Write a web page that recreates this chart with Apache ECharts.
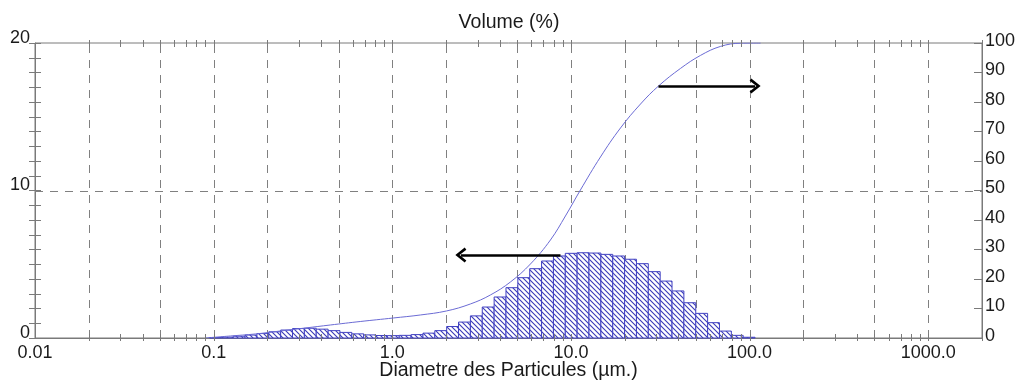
<!DOCTYPE html>
<html><head><meta charset="utf-8">
<script src="https://cdn.jsdelivr.net/npm/echarts@6/dist/echarts.min.js"></script>
<style>html,body{margin:0;padding:0;background:#fff}#c{width:1018px;height:382px}</style>
</head><body><div id="c"></div>
<script>
// ---- data ----
// histogram bin edges (µm) and volume (%) in each bin
const binEdges = [0.0948,0.1104,0.1287,0.1499,0.1747,0.2035,0.2372,0.2764,0.3220,0.3752,0.4372,0.5094,0.5935,0.6916,0.8057,0.9387,1.094,1.275,1.485,1.730,2.016,2.349,2.737,3.189,3.716,4.329,5.044,5.878,6.849,7.980,9.298,10.83,12.62,14.71,17.14,19.97,23.27,27.11,31.59,36.80,42.88,49.97,58.22,67.83,79.04,92.09,107.3];
const volumes = [0.03,0.06,0.12,0.2,0.3,0.42,0.54,0.64,0.66,0.6,0.5,0.38,0.28,0.21,0.17,0.16,0.18,0.23,0.33,0.5,0.78,1.08,1.5,2.1,2.78,3.41,4.09,4.7,5.22,5.56,5.74,5.78,5.76,5.67,5.56,5.34,5.04,4.5,3.86,3.19,2.39,1.67,1.04,0.47,0.18,0.05];
// cumulative curve (right axis)
const cumDiam = [0.0896,0.124,0.171,0.236,0.326,0.45,0.662,1.013,1.435,2.006,2.735,3.54,4.583,5.933,7.677,9.316,11.30,14.63,18.94,24.52,30.92,41.07,53.15,68.79,89.03,115.2];
const cumPct  = [0,0.68,1.36,2.37,3.39,4.41,5.59,6.78,7.8,9.15,11.53,14.58,18.98,25.08,33.22,41.36,50.17,61.36,71.19,79.32,85.42,91.39,95.8,98.85,99.93,100];
// axis ticks / labels
const xTickValues = [0.01,0.1,1,10,100,1000];
const xTickLabels = ['0.01','0.1','1.0','10.0','100.0','1000.0'];
const leftTickValues = [0,10,20];
const leftTickLabels = ['0','10','20'];
const rightTickLabels = ['0','10','20','30','40','50','60','70','80','90','100'];
const decades = [0.01,0.1,1,10,100,1000];
const multipliers = [1,2,3,4,5,6,7,8,9];
const gridXValues = [0.02,0.05,0.1,0.2,0.5,1,2,5,10,20,50,100,200,500,1000];
const gridYValues = [10];
// annotation arrows [diameter, right-axis %]
const arrowRightFrom = [30.9, 85.4], arrowRightTo = [107.4, 85.4];
const arrowLeftFrom = [8.74, 28.1], arrowLeftTo = [2.42, 28.1];

// ---- chart ----
const tickValues = [];
decades.forEach(d => multipliers.forEach(m => { const v = +(d*m).toPrecision(3); if (v > 0.01 && v <= 2000) tickValues.push(v); }));

function hatch(){
  const s = 5, c = document.createElement('canvas'); c.width = s; c.height = s;
  const g = c.getContext('2d'); g.fillStyle = '#fff'; g.fillRect(0,0,s,s);
  g.strokeStyle = '#3a3ab8'; g.lineWidth = 1.1; g.beginPath();
  g.moveTo(-1,-1); g.lineTo(s+1,s+1); g.moveTo(-1,s-1); g.lineTo(1,s+1); g.moveTo(s-1,-1); g.lineTo(s+1,1);
  g.stroke(); return c;
}
const pat = hatch();
const AX = '#7a7a7a', TXT = '#1a1a1a', FONT = 'Liberation Sans, Arial, sans-serif';
const crisp = x => Math.round(x) + 0.5;
const chevron = 'path://M50,0 L100,85 L86,100 L50,38 L14,100 L0,85 Z';

const chart = echarts.init(document.getElementById('c'), null, {renderer: 'canvas'});
chart.setOption({
  animation: false,
  textStyle: {fontFamily: FONT},
  title: {text: 'Volume (%)', left: 'center', top: 8, textStyle: {fontSize: 19.5, fontWeight: 'normal', color: TXT, fontFamily: FONT}},
  grid: {left: 35, right: 36, top: 43, bottom: 44, containLabel: false, outerBoundsMode: 'none', show: true, borderColor: AX, borderWidth: 1},
  xAxis: [
    {type: 'log', logBase: 10, min: 0.01, max: 2000, position: 'bottom',
     axisLine: {show: true, lineStyle: {color: AX}}, axisTick: {show: false}, splitLine: {show: false}, minorTick: {show: false},
     axisLabel: {fontSize: 18, color: TXT, margin: 6, formatter: v => {
       const i = xTickValues.findIndex(t => Math.abs(Math.log10(t) - Math.log10(v)) < 1e-6); return i < 0 ? '' : xTickLabels[i]; }},
     name: 'Diametre des Particules (µm.)', nameLocation: 'middle', nameGap: 23, nameMoveOverlap: false, nameTextStyle: {fontSize: 19.5, color: TXT}},
    {type: 'log', logBase: 10, min: 0.01, max: 2000, position: 'top',
     axisLine: {show: true, lineStyle: {color: AX}}, axisTick: {show: false}, axisLabel: {show: false}, splitLine: {show: false}}
  ],
  yAxis: [
    {type: 'value', min: 0, max: 20, interval: 1, position: 'left',
     axisLine: {show: true, lineStyle: {color: AX}}, axisTick: {show: true, inside: false, length: 6, lineStyle: {color: AX}},
     splitLine: {show: false},
     axisLabel: {fontSize: 18, color: TXT, margin: 5, verticalAlign: 'bottom', lineHeight: 10,
       formatter: v => { const i = leftTickValues.indexOf(v); return i < 0 ? '' : leftTickLabels[i]; }}},
    {type: 'value', min: 0, max: 100, interval: 10, position: 'right',
     axisLine: {show: true, lineStyle: {color: AX}}, axisTick: {show: true, inside: true, length: 8, lineStyle: {color: AX}},
     splitLine: {show: false},
     axisLabel: {fontSize: 18, color: TXT, margin: 3, verticalAlign: 'bottom', lineHeight: 4, formatter: v => rightTickLabels[Math.round(v/10)]}},
    {type: 'value', min: 0, max: 20, interval: 1, position: 'left',
     axisLine: {show: false}, axisTick: {show: true, inside: true, length: 6, lineStyle: {color: AX}},
     axisLabel: {show: false}, splitLine: {show: false}}
  ],
  series: [
    {type: 'custom', name: 'gridX', xAxisIndex: 0, yAxisIndex: 0, z: 1, silent: true, clip: false,
     data: gridXValues.map(v => [v, 0]), encode: {x: 0, y: 1},
     renderItem: (p, api) => { const b = api.coord([api.value(0), 0]), t = api.coord([api.value(0), 20]);
       return {type: 'line', shape: {x1: crisp(b[0]), y1: b[1], x2: crisp(b[0]), y2: t[1]}, style: {stroke: '#808080', lineWidth: 1, lineDash: [8, 7]}}; }},
    {type: 'custom', name: 'gridY', xAxisIndex: 0, yAxisIndex: 0, z: 1, silent: true, clip: false,
     data: gridYValues.map(v => [1, v]), encode: {x: 0, y: 1},
     renderItem: (p, api) => { const a = api.coord([0.01, api.value(1)]), b = api.coord([2000, api.value(1)]);
       return {type: 'line', shape: {x1: a[0], y1: crisp(a[1]), x2: b[0], y2: crisp(a[1])}, style: {stroke: '#808080', lineWidth: 1, lineDash: [8, 7]}}; }},
    {type: 'custom', name: 'Volume', xAxisIndex: 0, yAxisIndex: 0, z: 3, clip: false,
     data: volumes.map((v, i) => [binEdges[i], binEdges[i+1], v]), encode: {x: [0, 1], y: 2},
     renderItem: (p, api) => { const a = api.coord([api.value(0), api.value(2)]), b = api.coord([api.value(1), 0]);
       return {type: 'rect', shape: {x: a[0], y: a[1], width: b[0]-a[0], height: b[1]-a[1]},
         style: {fill: {image: pat, repeat: 'repeat'}, stroke: '#4141c2', lineWidth: 1}}; }},
    {type: 'line', name: 'Cumul', xAxisIndex: 0, yAxisIndex: 1, z: 4, smooth: 0.4, showSymbol: false, silent: true,
     data: cumDiam.map((d, i) => [d, cumPct[i]]), lineStyle: {color: '#6b6bd4', width: 1},
     markLine: {silent: true, symbol: ['none', chevron], symbolSize: [15, 11], label: {show: false},
       lineStyle: {color: '#000', width: 2.5, type: 'solid'}, emphasis: {disabled: true},
       data: [[{coord: arrowRightFrom}, {coord: arrowRightTo}], [{coord: arrowLeftFrom}, {coord: arrowLeftTo}]]}},
    {type: 'custom', name: 'ticks', xAxisIndex: 0, yAxisIndex: 0, z: 6, silent: true, clip: false,
     data: tickValues.map(v => [v, 0]), encode: {x: 0, y: 1},
     renderItem: (p, api) => { const b = api.coord([api.value(0), 0]), t = api.coord([api.value(0), 20]); const x = crisp(b[0]);
       return {type: 'group', children: [
         {type: 'line', shape: {x1: x, y1: b[1]-4, x2: x, y2: b[1]+3}, style: {stroke: AX, lineWidth: 1}},
         {type: 'line', shape: {x1: x, y1: t[1]-3, x2: x, y2: t[1]+4}, style: {stroke: AX, lineWidth: 1}}]}; }}
  ]
});
</script></body></html>
